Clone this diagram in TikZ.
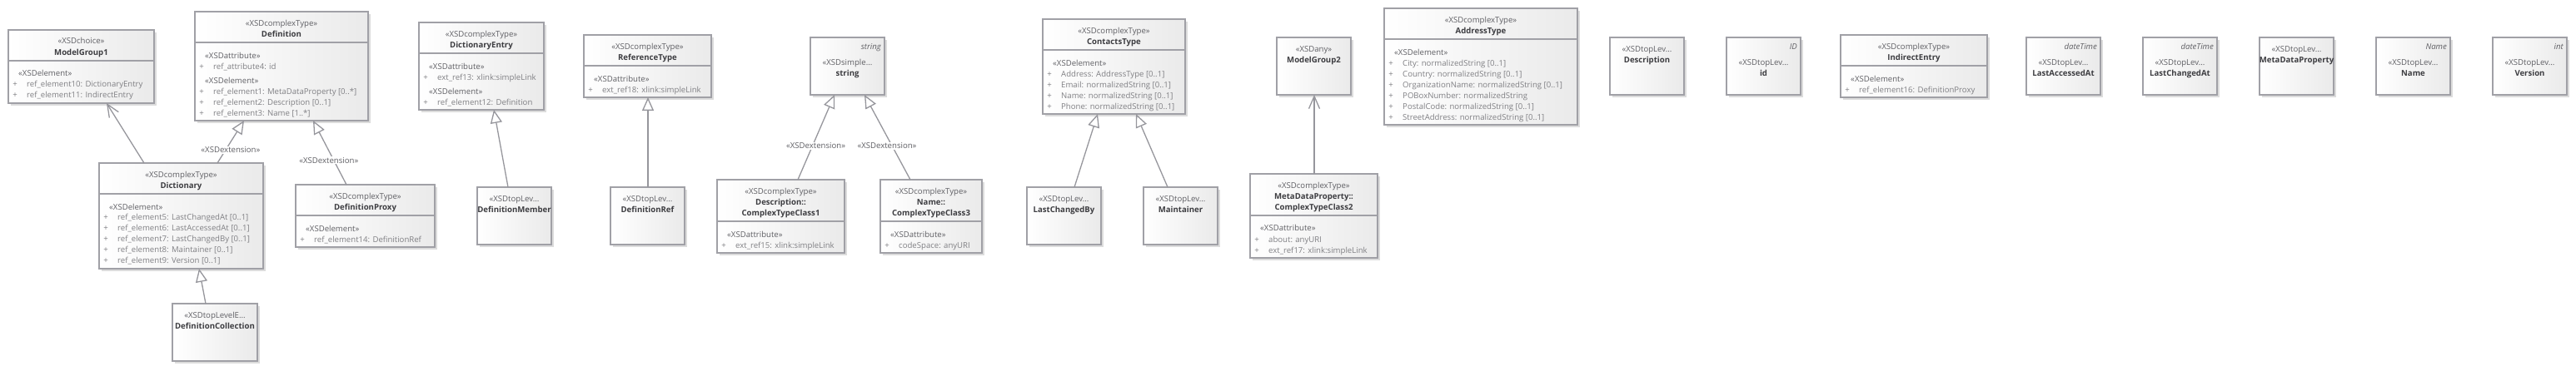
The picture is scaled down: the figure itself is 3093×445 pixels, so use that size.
\documentclass[tikz,border=0pt]{standalone}
\usepackage{fontspec}
\setmainfont{Open Sans}
\usetikzlibrary{arrows.meta,shadows}
\definecolor{bord}{RGB}{160,160,166}
\definecolor{fillR}{RGB}{234,234,234}
\definecolor{shadowc}{RGB}{220,220,220}
\definecolor{sterc}{RGB}{95,95,100}
\definecolor{namec}{RGB}{60,60,64}
\definecolor{attrc}{RGB}{128,128,132}
\definecolor{linec}{RGB}{150,150,156}
\newcounter{tl}
\newcommand\cbox[5]{\node[clsbox, minimum width={#4pt-#2pt}, minimum height={#5pt-#3pt}] (#1) at (#2,#3) {};}
\newcommand\cdiv[2]{\draw[sep] ([yshift=-#2pt]#1.north west) -- ([yshift=-#2pt]#1.north east);}
\newcommand\sterL[3]{\stepcounter{tl}\node[ster,anchor=base west] (t\arabic{tl}) at (#1+12,#2+4) {#3};}
\newcommand\attrL[3]{\stepcounter{tl}\node[attr,anchor=base] (p\arabic{tl}) at (#1+8,#2+4) {+};\node[attr,anchor=base west] (t\arabic{tl}) at (#1+22,#2+4) {#3};}
\newcommand\ctr[4]{\stepcounter{tl}\node[#1,anchor=base] (t\arabic{tl}) at (#2,#3+4) {#4};}
\newcommand\tagR[3]{\stepcounter{tl}\node[tagtxt,anchor=base east] (t\arabic{tl}) at (#1,#2+4) {#3};}
\begin{document}
\begin{tikzpicture}[x=1pt,y=-1pt,
  clsbox/.style={draw=bord, line width=1.5pt, left color=white, right color=fillR,
    drop shadow={shadow xshift=3pt,shadow yshift=-3pt,fill=shadowc,opacity=1},
    inner sep=0pt, outer sep=0pt, anchor=north west},
  sep/.style={draw=bord, line width=1.5pt},
  ster/.style={text=sterc, font=\fontsize{9.6}{11}\selectfont, inner sep=0pt},
  cname/.style={text=namec, font=\fontsize{9.6}{11}\selectfont\bfseries, inner sep=0pt},
  attr/.style={text=attrc, font=\fontsize{9.6}{11}\selectfont, inner sep=0pt},
  tagtxt/.style={text=sterc, font=\fontsize{9.6}{11}\selectfont\itshape, inner sep=0pt},
  gen/.style={draw=linec, line width=1.3pt, -{Triangle[length=16pt,width=14pt,fill=white,line width=1.3pt]}},
  dep/.style={draw=linec, line width=1.3pt, -{Straight Barb[length=15pt,width=13pt,line width=1.3pt]}},
  lbl/.style={text=sterc, font=\fontsize{9.6}{11}\selectfont, fill=white, inner sep=1pt}]
\useasboundingbox (0,0) rectangle (3093,445);

% ---- boxes ----
\cbox{mga}{10}{36}{185}{124}\cdiv{mga}{37}
\ctr{ster}{97.5}{48}{«XSDchoice»}\ctr{cname}{97.5}{62}{ModelGroup1}
\sterL{10}{87}{«XSDelement»}
\attrL{10}{100}{ref\_element10: DictionaryEntry}
\attrL{10}{113}{ref\_element11: IndirectEntry}

\cbox{defn}{234}{14}{442}{145}\cdiv{defn}{37}
\ctr{ster}{338}{27}{«XSDcomplexType»}\ctr{cname}{338}{40}{Definition}
\sterL{234}{66}{«XSDattribute»}
\attrL{234}{79}{ref\_attribute4: id}
\sterL{234}{96}{«XSDelement»}
\attrL{234}{109}{ref\_element1: MetaDataProperty [0..*]}
\attrL{234}{122}{ref\_element2: Description [0..1]}
\attrL{234}{135}{ref\_element3: Name [1..*]}

\cbox{dict}{119}{196}{316}{323}\cdiv{dict}{37}
\ctr{ster}{217.5}{209}{«XSDcomplexType»}\ctr{cname}{217.5}{222}{Dictionary}
\sterL{119}{248}{«XSDelement»}
\attrL{119}{260}{ref\_element5: LastChangedAt [0..1]}
\attrL{119}{273}{ref\_element6: LastAccessedAt [0..1]}
\attrL{119}{286}{ref\_element7: LastChangedBy [0..1]}
\attrL{119}{299}{ref\_element8: Maintainer [0..1]}
\attrL{119}{312}{ref\_element9: Version [0..1]}

\cbox{dcoll}{207}{365}{309}{434}
\ctr{ster}{258}{378}{«XSDtopLevelE...}\ctr{cname}{258}{391}{DefinitionCollection}

\cbox{dproxy}{355}{222}{522}{297}\cdiv{dproxy}{37}
\ctr{ster}{438.5}{235}{«XSDcomplexType»}\ctr{cname}{438.5}{248}{DefinitionProxy}
\sterL{355}{274}{«XSDelement»}
\attrL{355}{287}{ref\_element14: DefinitionRef}

\cbox{dentry}{503}{27}{653}{132}\cdiv{dentry}{37}
\ctr{ster}{578}{40}{«XSDcomplexType»}\ctr{cname}{578}{53}{DictionaryEntry}
\sterL{503}{79}{«XSDattribute»}
\attrL{503}{92}{ext\_ref13: xlink:simpleLink}
\sterL{503}{109}{«XSDelement»}
\attrL{503}{122}{ref\_element12: Definition}

\cbox{dmember}{573}{225}{662}{294}
\ctr{ster}{617.5}{238}{«XSDtopLev...}\ctr{cname}{617.5}{251}{DefinitionMember}

\cbox{reftype}{701}{42}{854}{117}\cdiv{reftype}{37}
\ctr{ster}{777.5}{55}{«XSDcomplexType»}\ctr{cname}{777.5}{68}{ReferenceType}
\sterL{701}{94}{«XSDattribute»}
\attrL{701}{107}{ext\_ref18: xlink:simpleLink}

\cbox{dref}{733}{225}{822}{294}
\ctr{ster}{777.5}{238}{«XSDtopLev...}\ctr{cname}{777.5}{251}{DefinitionRef}

\cbox{str}{973}{45}{1062}{114}
\tagR{1058}{55}{string}
\ctr{ster}{1017.5}{74}{«XSDsimple...}\ctr{cname}{1017.5}{87}{string}

\cbox{ctca}{861}{216}{1014}{304}\cdiv{ctca}{50}
\ctr{ster}{937.5}{229}{«XSDcomplexType»}\ctr{cname}{937.5}{242}{Description::}\ctr{cname}{937.5}{255}{ComplexTypeClass1}
\sterL{861}{281}{«XSDattribute»}
\attrL{861}{294}{ext\_ref15: xlink:simpleLink}

\cbox{ctcc}{1057}{216}{1179}{304}\cdiv{ctcc}{50}
\ctr{ster}{1118}{229}{«XSDcomplexType»}\ctr{cname}{1118}{242}{Name::}\ctr{cname}{1118}{255}{ComplexTypeClass3}
\sterL{1057}{281}{«XSDattribute»}
\attrL{1057}{294}{codeSpace: anyURI}

\cbox{contacts}{1252}{23}{1423}{137}\cdiv{contacts}{37}
\ctr{ster}{1337.5}{36}{«XSDcomplexType»}\ctr{cname}{1337.5}{49}{ContactsType}
\sterL{1252}{75}{«XSDelement»}
\attrL{1252}{88}{Address: AddressType [0..1]}
\attrL{1252}{101}{Email: normalizedString [0..1]}
\attrL{1252}{114}{Name: normalizedString [0..1]}
\attrL{1252}{127}{Phone: normalizedString [0..1]}

\cbox{lcby}{1233}{225}{1322}{294}
\ctr{ster}{1277.5}{238}{«XSDtopLev...}\ctr{cname}{1277.5}{251}{LastChangedBy}

\cbox{maint}{1373}{225}{1462}{294}
\ctr{ster}{1417.5}{238}{«XSDtopLev...}\ctr{cname}{1417.5}{251}{Maintainer}

\cbox{ctcb}{1501}{209}{1654}{310}\cdiv{ctcb}{50}
\ctr{ster}{1577.5}{222}{«XSDcomplexType»}\ctr{cname}{1577.5}{235}{MetaDataProperty::}\ctr{cname}{1577.5}{248}{ComplexTypeClass2}
\sterL{1501}{273}{«XSDattribute»}
\attrL{1501}{287}{about: anyURI}
\attrL{1501}{300}{ext\_ref17: xlink:simpleLink}

\cbox{mgb}{1533}{45}{1622}{114}
\ctr{ster}{1577.5}{58}{«XSDany»}\ctr{cname}{1577.5}{71}{ModelGroup2}

\cbox{addr}{1662}{10}{1894}{150}\cdiv{addr}{37}
\ctr{ster}{1778}{23}{«XSDcomplexType»}\ctr{cname}{1778}{36}{AddressType}
\sterL{1662}{62}{«XSDelement»}
\attrL{1662}{75}{City: normalizedString [0..1]}
\attrL{1662}{88}{Country: normalizedString [0..1]}
\attrL{1662}{101}{OrganizationName: normalizedString [0..1]}
\attrL{1662}{114}{POBoxNumber: normalizedString}
\attrL{1662}{127}{PostalCode: normalizedString [0..1]}
\attrL{1662}{140}{StreetAddress: normalizedString [0..1]}

\cbox{desc}{1933}{45}{2022}{114}
\ctr{ster}{1977.5}{58}{«XSDtopLev...}\ctr{cname}{1977.5}{71}{Description}

\cbox{idb}{2073}{45}{2162}{114}
\tagR{2158}{55}{ID}
\ctr{ster}{2117.5}{74}{«XSDtopLev...}\ctr{cname}{2117.5}{87}{id}

\cbox{indir}{2210}{42}{2386}{117}\cdiv{indir}{37}
\ctr{ster}{2298}{55}{«XSDcomplexType»}\ctr{cname}{2298}{68}{IndirectEntry}
\sterL{2210}{94}{«XSDelement»}
\attrL{2210}{107}{ref\_element16: DefinitionProxy}

\cbox{lacc}{2433}{45}{2522}{114}
\tagR{2518}{55}{dateTime}
\ctr{ster}{2477.5}{74}{«XSDtopLev...}\ctr{cname}{2477.5}{87}{LastAccessedAt}

\cbox{lchat}{2573}{45}{2662}{114}
\tagR{2658}{55}{dateTime}
\ctr{ster}{2617.5}{74}{«XSDtopLev...}\ctr{cname}{2617.5}{87}{LastChangedAt}

\cbox{mdp}{2713}{45}{2802}{114}
\ctr{ster}{2757.5}{58}{«XSDtopLev...}\ctr{cname}{2757.5}{71}{MetaDataProperty}

\cbox{nameb}{2853}{45}{2942}{114}
\tagR{2938}{55}{Name}
\ctr{ster}{2897.5}{74}{«XSDtopLev...}\ctr{cname}{2897.5}{87}{Name}

\cbox{vers}{2993}{45}{3082}{114}
\tagR{3078}{55}{int}
\ctr{ster}{3037.5}{74}{«XSDtopLev...}\ctr{cname}{3037.5}{87}{Version}

% ---- connectors ----
\draw[dep] ([xshift=54pt]dict.north west) -- ([xshift=118pt]mga.south west);
\draw[gen] ([xshift=142pt]dict.north west) -- node[lbl, pos=0.31, xshift=6pt] (lx1) {«XSDextension»} ([xshift=59pt]defn.south west);
\draw[gen] ([xshift=40pt]dcoll.north west) -- ([xshift=120pt]dict.south west);
\draw[gen] ([xshift=61pt]dproxy.north west) -- node[lbl, pos=0.38, xshift=-6pt] (lx2) {«XSDextension»} ([xshift=142pt]defn.south west);
\draw[gen] ([xshift=37pt]dmember.north west) -- ([xshift=90pt]dentry.south west);
\draw[gen] ([xshift=45pt]dref.north west) -- ([xshift=77pt]reftype.south west);
\draw[gen] ([xshift=97pt]ctca.north west) -- node[lbl, pos=0.40, xshift=4pt] (lx3) {«XSDextension»} ([xshift=29pt]str.south west);
\draw[gen] ([xshift=36pt]ctcc.north west) -- node[lbl, pos=0.40, xshift=-6pt] (lx4) {«XSDextension»} ([xshift=65pt]str.south west);
\draw[gen] ([xshift=57pt]lcby.north west) -- ([xshift=66pt]contacts.south west);
\draw[gen] ([xshift=29pt]maint.north west) -- ([xshift=112pt]contacts.south west);
\draw[dep] ([xshift=77pt]ctcb.north west) -- ([xshift=45pt]mgb.south west);
\end{tikzpicture}
\end{document}
